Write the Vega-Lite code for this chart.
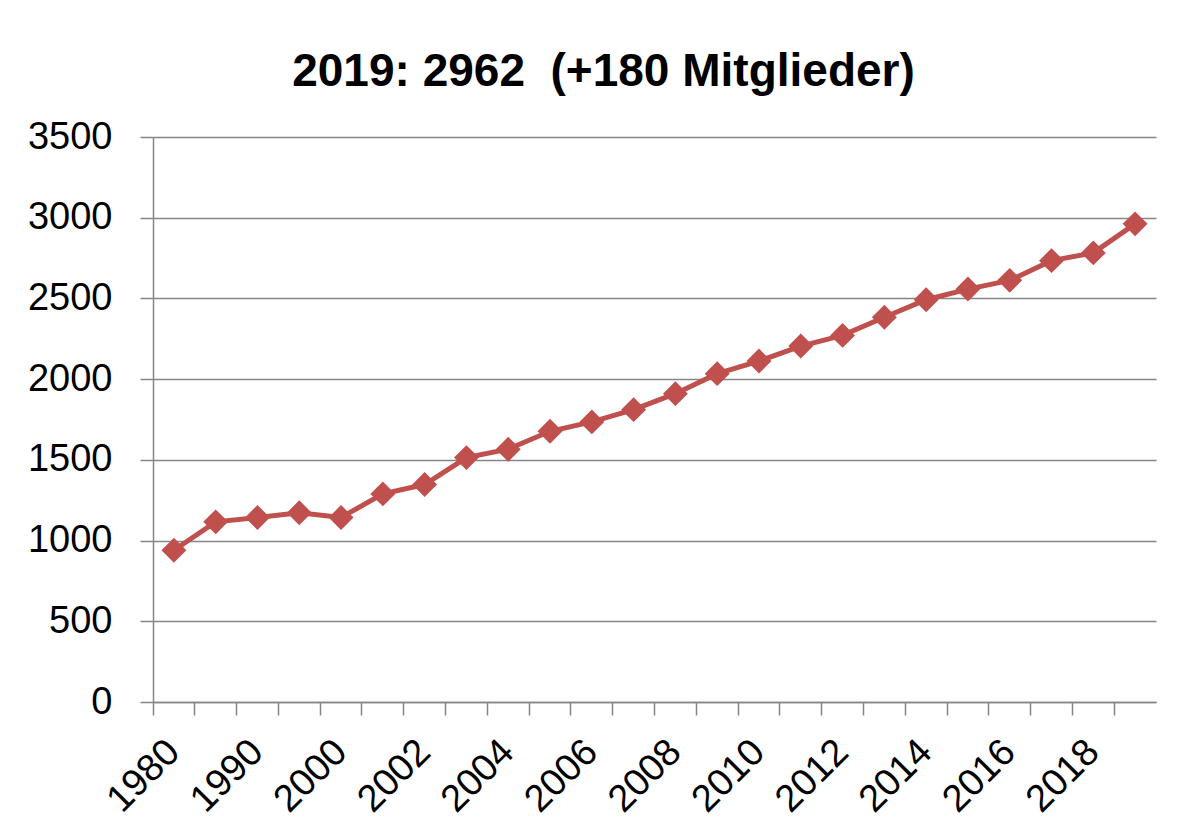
{
  "$schema": "https://vega.github.io/schema/vega-lite/v6.json",
  "width": 1003,
  "height": 565,
  "autosize": {"type": "none"},
  "padding": {"left": 153, "top": 137, "right": 28, "bottom": 137},
  "background": "white",
  "title": {
    "text": "2019: 2962\u00a0 (+180 Mitglieder)",
    "font": "Liberation Sans",
    "fontWeight": "bold",
    "fontSize": 46,
    "color": "black",
    "anchor": "middle",
    "baseline": "alphabetic",
    "dx": -51,
    "offset": -14
  },
  "data": {
    "values": [
      {"year": "1980", "members": 940},
      {"year": "1985", "members": 1116},
      {"year": "1990", "members": 1143},
      {"year": "1995", "members": 1172},
      {"year": "2000", "members": 1143},
      {"year": "2001", "members": 1289},
      {"year": "2002", "members": 1347},
      {"year": "2003", "members": 1514},
      {"year": "2004", "members": 1566},
      {"year": "2005", "members": 1677},
      {"year": "2006", "members": 1735},
      {"year": "2007", "members": 1811},
      {"year": "2008", "members": 1910},
      {"year": "2009", "members": 2034},
      {"year": "2010", "members": 2112},
      {"year": "2011", "members": 2205},
      {"year": "2012", "members": 2271},
      {"year": "2013", "members": 2383},
      {"year": "2014", "members": 2492},
      {"year": "2015", "members": 2558},
      {"year": "2016", "members": 2612},
      {"year": "2017", "members": 2734},
      {"year": "2018", "members": 2782},
      {"year": "2019", "members": 2962}
    ]
  },
  "layer": [
    {
      "mark": {"type": "line", "color": "#C0504D", "strokeWidth": 5},
      "encoding": {
        "x": {
          "field": "year",
          "type": "ordinal",
          "sort": null,
          "scale": {"type": "band", "paddingInner": 0, "paddingOuter": 0},
          "axis": {
            "orient": "bottom",
            "bandPosition": 0,
            "ticks": true,
            "tickSize": 13,
            "tickWidth": 1.5,
            "tickColor": "#868686",
            "labels": false,
            "domain": true,
            "domainColor": "#868686",
            "domainWidth": 1.5,
            "grid": false,
            "title": null
          }
        },
        "y": {
          "field": "members",
          "type": "quantitative",
          "scale": {"domain": [0, 3500], "nice": false, "zero": true},
          "axis": {
            "values": [0, 500, 1000, 1500, 2000, 2500, 3000, 3500],
            "format": "d",
            "tickSize": 13,
            "tickWidth": 1.5,
            "tickColor": "#868686",
            "domainColor": "#868686",
            "domainWidth": 1.5,
            "grid": true,
            "gridColor": "#868686",
            "gridWidth": 1.5,
            "labelFont": "Liberation Sans",
            "labelFontSize": 38,
            "labelColor": "black",
            "labelPadding": 28,
            "title": null
          }
        }
      }
    },
    {
      "mark": {"type": "point", "shape": "diamond", "filled": true, "size": 620, "color": "#C0504D", "opacity": 1},
      "encoding": {
        "x": {
          "field": "year",
          "type": "ordinal",
          "sort": null,
          "axis": {
            "orient": "bottom",
            "bandPosition": 0.5,
            "values": ["1980", "1990", "2000", "2002", "2004", "2006", "2008", "2010", "2012", "2014", "2016", "2018"],
            "ticks": false,
            "domain": false,
            "grid": false,
            "labels": true,
            "labelAngle": -45,
            "labelAlign": "right",
            "labelBaseline": "middle",
            "labelPadding": 44,
            "labelOverlap": false,
            "labelBound": false,
            "labelFont": "Liberation Sans",
            "labelFontSize": 38,
            "labelColor": "black",
            "title": null
          }
        },
        "y": {
          "field": "members",
          "type": "quantitative"
        }
      }
    }
  ],
  "resolve": {"axis": {"x": "independent"}},
  "config": {"view": {"stroke": null}}
}
